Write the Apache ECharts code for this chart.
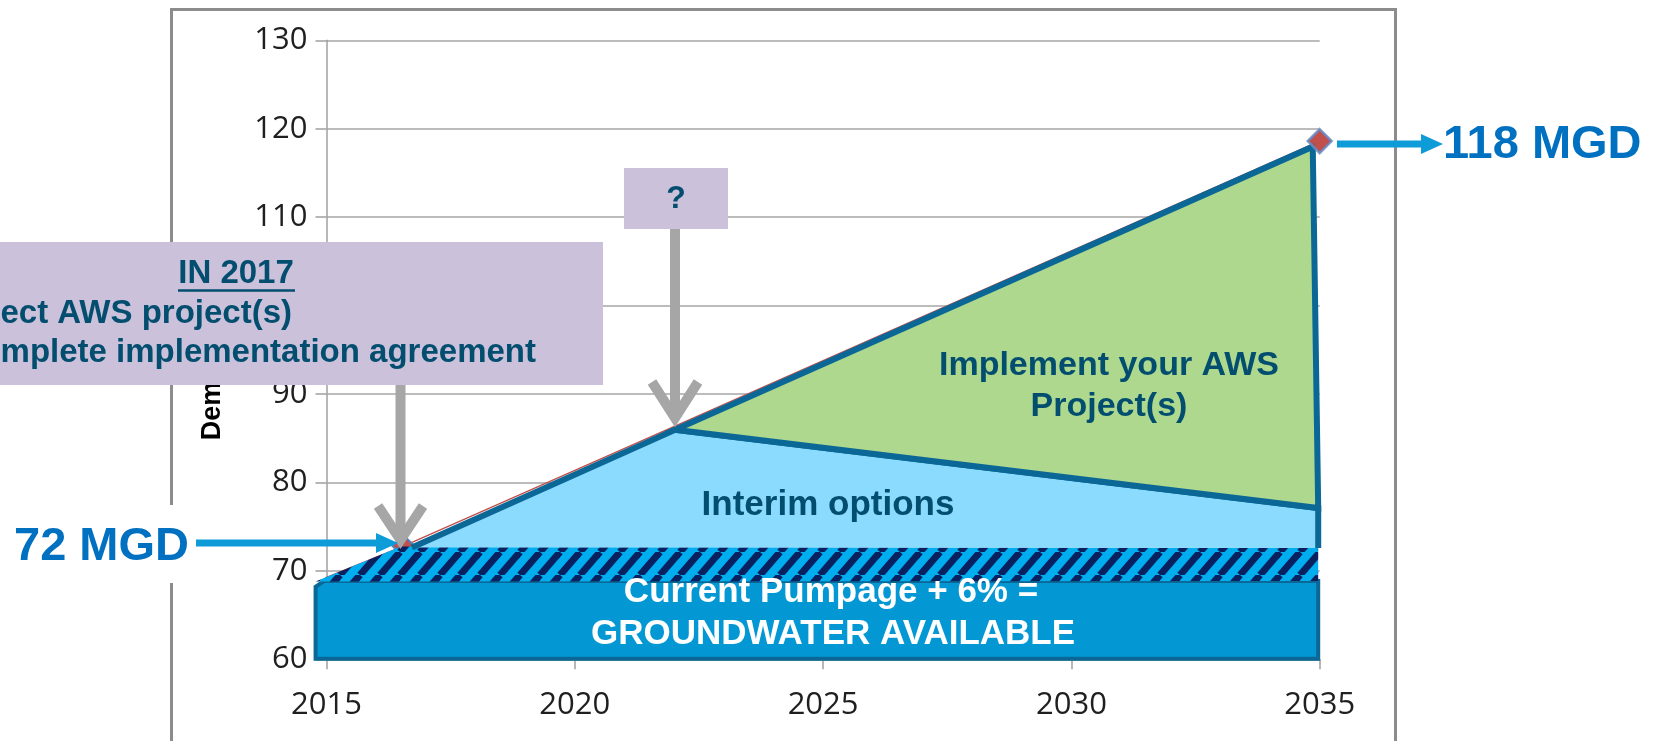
<!DOCTYPE html>
<html><head><meta charset="utf-8">
<script src="https://cdn.jsdelivr.net/npm/echarts@6/dist/echarts.min.js"></script>
<style>html,body{margin:0;padding:0;background:#fff}#c{width:1662px;height:741px}</style>
</head><body><div id="c"></div>
<script>
// ---------- data ----------
const xTicks = [2015, 2020, 2025, 2030, 2035];
const yTicks = [60, 70, 80, 90, 100, 110, 120, 130];
const demandYears = [2014.8, 2016.55, 2035];
const demandValues = [68.8, 72.8, 118.6];
// area outlines, as (year, MGD) vertices
const pumpageArea = [[2014.78, 60.05], [2014.78, 68.2], [2014.95, 68.85], [2034.97, 68.85], [2034.97, 60.05]];
const reserveArea = [[2014.78, 68.8], [2016.5, 72.75], [2034.97, 72.6], [2034.97, 68.85]];
const interimArea = [[2016.72, 72.65], [2022.02, 85.95], [2034.97, 77.1], [2034.97, 72.6]];
const awsArea = [[2022.02, 85.95], [2034.86, 117.97], [2034.97, 77.1]];
const labels = {
  yName: 'Demand (MGD)',
  box1: ['IN 2017', 'Select AWS project(s)', 'Complete implementation agreement'],
  box2: '?',
  aws: ['Implement your AWS', 'Project(s)'],
  interim: 'Interim options',
  pump: ['Current Pumpage + 6% =', 'GROUNDWATER AVAILABLE'],
  start: '72 MGD',
  end: '118 MGD'
};

// ---------- styling ----------
const OUTLINE = '#0B6896';
const DARKTXT = '#034E6F';
const FONT = '"Liberation Sans", Arial, sans-serif';

function hatchTile() {
  const W = 20, H = 23, c = document.createElement('canvas');
  c.width = W; c.height = H;
  const g = c.getContext('2d');
  g.fillStyle = '#00AEEF'; g.fillRect(0, 0, W, H);
  g.strokeStyle = '#0A2160'; g.lineWidth = 7;
  for (let k = 0; k <= 2; k++) { g.beginPath(); g.moveTo(k * W, 0); g.lineTo((k - 1) * W, H); g.stroke(); }
  return c;
}
const hatch = { image: hatchTile(), repeat: 'repeat' };

function areaSeries(name, pts, fill, stroke, lineWidth, openStroke, z) {
  return {
    type: 'custom', name: name, z: z, silent: true, clip: false,
    data: pts, encode: { x: 0, y: 1 },
    renderItem: function (params, api) {
      if (params.dataIndex !== 0) return null;
      const p = pts.map(function (v) { return api.coord(v); });
      const children = [{ type: 'polygon', shape: { points: p }, style: { fill: fill, stroke: openStroke ? null : stroke, lineWidth: openStroke ? 0 : lineWidth, lineJoin: 'miter' } }];
      if (openStroke && stroke) {
        children.push({ type: 'polyline', shape: { points: p }, style: { fill: null, stroke: stroke, lineWidth: lineWidth, lineJoin: 'miter' } });
      }
      return { type: 'group', children: children };
    }
  };
}

const chart = echarts.init(document.getElementById('c'), null, { renderer: 'canvas' });
const tickFont = { fontSize: 31, color: '#1f1f1f', fontFamily: '"Open Sans", sans-serif', formatter: function (v) { return String(v); } };

chart.setOption({
  animation: false,
  backgroundColor: '#fff',
  grid: { left: 326.5, right: 342.3, top: 40.3, bottom: 81.7, containLabel: false, outerBoundsMode: 'none' },
  xAxis: {
    type: 'value', min: xTicks[0], max: xTicks[xTicks.length - 1], interval: 5,
    axisLabel: Object.assign({ margin: 30 }, tickFont),
    axisLine: { show: true, lineStyle: { color: '#A0A0A0', width: 1.5 } },
    axisTick: { show: true, length: 10, lineStyle: { color: '#A0A0A0', width: 1.5 } },
    splitLine: { show: false }
  },
  yAxis: {
    type: 'value', min: yTicks[0], max: yTicks[yTicks.length - 1], interval: 10,
    name: labels.yName, nameLocation: 'middle', nameGap: 100,
    nameTextStyle: { fontSize: 27, fontWeight: 'bold', color: '#000', fontFamily: FONT, padding: [0, 0, 0, 14] },
    axisLabel: Object.assign({ margin: 19 }, tickFont),
    axisLine: { show: true, lineStyle: { color: '#A0A0A0', width: 1.5 } },
    axisTick: { show: true, length: 11, lineStyle: { color: '#A0A0A0', width: 1.5 } },
    splitLine: { show: true, lineStyle: { color: '#A6A6A6', width: 1.5 } }
  },
  series: [
    {
      type: 'line', name: 'Demand', z: 1,
      data: demandYears.map(function (x, i) { return [x, demandValues[i]]; }),
      symbol: 'diamond', symbolSize: 22,
      lineStyle: { color: '#C0504D', width: 1.5 },
      itemStyle: { color: '#C0504D', borderColor: '#4F81BD', borderWidth: 2 }
    },
    areaSeries('Groundwater available', pumpageArea, '#0398D4', OUTLINE, 4, false, 2),
    areaSeries('Pumpage + 6%', reserveArea, hatch, null, 0, false, 2),
    areaSeries('Interim options', interimArea, '#8BDBFF', OUTLINE, 6, true, 3),
    areaSeries('AWS projects', awsArea, '#AED88E', OUTLINE, 6, false, 3),
    {
      type: 'scatter', name: 'Demand 2035', z: 5,
      data: [[demandYears[demandYears.length - 1], demandValues[demandValues.length - 1]]],
      symbol: 'diamond', symbolSize: 24,
      itemStyle: { color: '#C0504D', borderColor: '#6A8FC8', borderWidth: 2.5 }
    }
  ],
  graphic: [
    // chart frame
    { type: 'rect', z: 0, shape: { x: 171.5, y: 9.5, width: 1224, height: 800 }, style: { fill: null, stroke: '#8C8C8C', lineWidth: 3 } },
    // white backdrop behind 72 MGD
    { type: 'rect', z: 50, shape: { x: 0, y: 505, width: 196, height: 78 }, style: { fill: '#fff' } },
    // big purple box
    { type: 'rect', z: 60, shape: { x: -10, y: 242, width: 613, height: 143 }, style: { fill: '#CBC1DB' } },
    { type: 'text', z: 61, x: 236, y: 274, style: { text: labels.box1[0], font: 'bold 33px ' + FONT, fill: DARKTXT, align: 'center', verticalAlign: 'middle' } },
    { type: 'line', z: 61, shape: { x1: 178, y1: 290.5, x2: 295, y2: 290.5 }, style: { stroke: DARKTXT, lineWidth: 2.5 } },
    { type: 'text', z: 61, x: 292, y: 314, style: { text: labels.box1[1], font: 'bold 33px ' + FONT, fill: DARKTXT, align: 'right', verticalAlign: 'middle' } },
    { type: 'text', z: 61, x: 536, y: 353, style: { text: labels.box1[2], font: 'bold 33px ' + FONT, fill: DARKTXT, align: 'right', verticalAlign: 'middle' } },
    // small purple box
    { type: 'rect', z: 60, shape: { x: 624, y: 168, width: 104, height: 61 }, style: { fill: '#CBC1DB' } },
    { type: 'text', z: 61, x: 676, y: 199, style: { text: labels.box2, font: 'bold 32px ' + FONT, fill: DARKTXT, align: 'center', verticalAlign: 'middle' } },
    // grey arrows
    { type: 'line', z: 62, shape: { x1: 400.5, y1: 385, x2: 400.5, y2: 536 }, style: { stroke: '#A6A6A6', lineWidth: 10 } },
    { type: 'polyline', z: 62, shape: { points: [[378, 506], [400.5, 540], [423, 506]] }, style: { stroke: '#A6A6A6', lineWidth: 10, fill: null, lineJoin: 'miter' } },
    { type: 'line', z: 62, shape: { x1: 675, y1: 229, x2: 675, y2: 414 }, style: { stroke: '#A6A6A6', lineWidth: 10 } },
    { type: 'polyline', z: 62, shape: { points: [[652, 382], [675, 418], [698, 382]] }, style: { stroke: '#A6A6A6', lineWidth: 10, fill: null, lineJoin: 'miter' } },
    // 72 MGD
    { type: 'text', z: 63, x: 189, y: 547, style: { text: labels.start, font: 'bold 47px ' + FONT, fill: '#0070C0', align: 'right', verticalAlign: 'middle' } },
    { type: 'line', z: 63, shape: { x1: 196, y1: 543, x2: 380, y2: 543 }, style: { stroke: '#0D9CD8', lineWidth: 7 } },
    { type: 'polygon', z: 63, shape: { points: [[376, 533], [398, 543], [376, 553]] }, style: { fill: '#0D9CD8' } },
    // 118 MGD
    { type: 'text', z: 63, x: 1443, y: 145, style: { text: labels.end, font: 'bold 47px ' + FONT, fill: '#0070C0', align: 'left', verticalAlign: 'middle' } },
    { type: 'line', z: 63, shape: { x1: 1337, y1: 144, x2: 1425, y2: 144 }, style: { stroke: '#0D9CD8', lineWidth: 7 } },
    { type: 'polygon', z: 63, shape: { points: [[1421, 134], [1443, 144], [1421, 154]] }, style: { fill: '#0D9CD8' } },
    // area labels
    { type: 'text', z: 63, x: 1109, y: 366, style: { text: labels.aws[0], font: 'bold 34px ' + FONT, fill: DARKTXT, align: 'center', verticalAlign: 'middle' } },
    { type: 'text', z: 63, x: 1109, y: 407, style: { text: labels.aws[1], font: 'bold 34px ' + FONT, fill: DARKTXT, align: 'center', verticalAlign: 'middle' } },
    { type: 'text', z: 63, x: 828, y: 505, style: { text: labels.interim, font: 'bold 35px ' + FONT, fill: DARKTXT, align: 'center', verticalAlign: 'middle' } },
    { type: 'text', z: 63, x: 831, y: 592, style: { text: labels.pump[0], font: 'bold 35px ' + FONT, fill: '#fff', align: 'center', verticalAlign: 'middle' } },
    { type: 'text', z: 63, x: 833, y: 634, style: { text: labels.pump[1], font: 'bold 35px ' + FONT, fill: '#fff', align: 'center', verticalAlign: 'middle' } }
  ]
});
</script>
</body></html>
